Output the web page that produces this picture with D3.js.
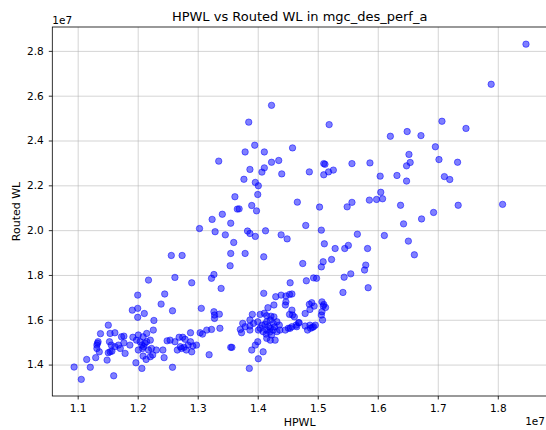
<!DOCTYPE html>
<html><head><meta charset="utf-8">
<script src="https://cdn.jsdelivr.net/npm/d3@7/dist/d3.min.js"></script>
<style>
body{margin:0;background:#fff}
svg{display:block}
text{font-family:"DejaVu Sans",sans-serif;fill:#000}
</style>
</head><body>
<svg id="chart" width="546" height="430"></svg>
<script>
// Values in units of 1e7 (matplotlib offset text "1e7")
const SCALE = 1e7;
const xTicks = [1.1,1.2,1.3,1.4,1.5,1.6,1.7,1.8];
const yTicks = [1.4,1.6,1.8,2.0,2.2,2.4,2.6,2.8];
const xDomain = [1.0577, 1.882];
const yDomain = [1.2598, 2.9066];

// [HPWL, Routed WL] pairs, grouped by region of the plot
const upperPoints = [[1.847,2.830],[1.789,2.651],[1.423,2.557],[1.385,2.482],[1.519,2.471],[1.395,2.379],[1.379,2.349],[1.411,2.349],[1.458,2.367],[1.335,2.308],[1.423,2.303],[1.435,2.311],[1.411,2.278],[1.407,2.259],[1.387,2.271],[1.440,2.251],[1.486,2.260],[1.510,2.297],[1.512,2.294],[1.518,2.260],[1.526,2.268],[1.510,2.247],[1.377,2.227],[1.396,2.213],[1.401,2.198],[1.400,2.159],[1.362,2.149],[1.466,2.125],[1.503,2.103],[1.390,2.110],[1.398,2.086],[1.366,2.094],[1.369,2.095],[1.341,2.071],[1.324,2.048],[1.355,2.031],[1.303,2.007],[1.329,1.993],[1.346,1.979],[1.383,1.996],[1.387,1.985],[1.396,1.972],[1.413,1.997],[1.439,1.979],[1.449,1.961],[1.480,2.021],[1.506,2.000],[1.511,1.939],[1.529,1.918],[1.360,1.945],[1.355,1.896],[1.379,1.896],[1.410,1.881],[1.354,1.841],[1.475,1.851],[1.509,1.859],[1.506,1.836],[1.523,1.869],[1.256,1.887],[1.274,1.887],[1.327,1.802],[1.323,1.785],[1.262,1.789]];

const rightPoints = [[1.707,2.486],[1.747,2.454],[1.649,2.440],[1.621,2.419],[1.672,2.422],[1.696,2.372],[1.652,2.338],[1.654,2.302],[1.648,2.287],[1.702,2.315],[1.733,2.303],[1.557,2.297],[1.587,2.300],[1.604,2.241],[1.632,2.244],[1.648,2.219],[1.711,2.239],[1.720,2.226],[1.605,2.169],[1.586,2.134],[1.598,2.137],[1.608,2.140],[1.557,2.124],[1.549,2.104],[1.638,2.111],[1.734,2.111],[1.808,2.115],[1.693,2.079],[1.673,2.050],[1.643,2.028],[1.566,1.982],[1.611,1.976],[1.651,1.951],[1.661,1.890],[1.545,1.918],[1.551,1.932],[1.583,1.918],[1.580,1.844],[1.578,1.822],[1.555,1.805],[1.544,1.790],[1.584,1.743],[1.542,1.722]];

const midPoints = [[1.454,1.765],[1.457,1.715],[1.481,1.774],[1.493,1.787],[1.498,1.785],[1.486,1.669],[1.490,1.676],[1.494,1.661],[1.487,1.646],[1.479,1.628],[1.507,1.680],[1.509,1.661],[1.513,1.655],[1.507,1.636],[1.506,1.621],[1.508,1.599],[1.457,1.643],[1.458,1.621],[1.454,1.562],[1.469,1.587],[1.465,1.569],[1.479,1.572],[1.483,1.554],[1.488,1.562],[1.493,1.569],[1.496,1.576],[1.487,1.576],[1.491,1.566],[1.510,1.668]];

const centerPoints = [[1.290,1.765],[1.339,1.740],[1.410,1.718],[1.430,1.703],[1.439,1.710],[1.447,1.706],[1.453,1.713],[1.447,1.680],[1.446,1.666],[1.417,1.654],[1.427,1.666],[1.306,1.651],[1.327,1.636],[1.336,1.625],[1.328,1.606],[1.328,1.621],[1.258,1.640],[1.453,1.624],[1.461,1.613],[1.391,1.624],[1.404,1.624],[1.411,1.629],[1.415,1.618],[1.422,1.616],[1.427,1.613],[1.375,1.584],[1.387,1.599],[1.393,1.584],[1.379,1.569],[1.371,1.557],[1.373,1.542],[1.387,1.572],[1.387,1.554],[1.400,1.591],[1.407,1.576],[1.415,1.591],[1.421,1.599],[1.426,1.584],[1.432,1.591],[1.436,1.576],[1.421,1.562],[1.415,1.554],[1.426,1.554],[1.432,1.547],[1.423,1.532],[1.415,1.517],[1.421,1.509],[1.429,1.509],[1.409,1.547],[1.404,1.562],[1.437,1.554],[1.446,1.554],[1.451,1.562],[1.457,1.569],[1.464,1.576],[1.468,1.587],[1.401,1.554],[1.414,1.536],[1.418,1.570],[1.428,1.568],[1.412,1.580],[1.420,1.545],[1.400,1.502],[1.396,1.487],[1.390,1.465],[1.409,1.457],[1.401,1.426],[1.386,1.383],[1.357,1.477],[1.355,1.477],[1.319,1.444],[1.258,1.388],[1.304,1.542],[1.308,1.536],[1.315,1.554],[1.323,1.557],[1.337,1.562],[1.288,1.542],[1.262,1.502],[1.269,1.522],[1.275,1.522],[1.279,1.513],[1.266,1.465],[1.273,1.472],[1.277,1.477],[1.284,1.487],[1.288,1.502],[1.292,1.483],[1.298,1.487],[1.290,1.457],[1.281,1.465],[1.271,1.480],[1.254,1.509]];

const lowerLeftPoints = [[1.218,1.777],[1.200,1.710],[1.245,1.715],[1.239,1.670],[1.191,1.643],[1.200,1.651],[1.211,1.628],[1.200,1.611],[1.227,1.597],[1.226,1.554],[1.151,1.576],[1.138,1.538],[1.154,1.539],[1.162,1.542],[1.173,1.524],[1.177,1.527],[1.192,1.522],[1.201,1.532],[1.209,1.524],[1.215,1.539],[1.134,1.502],[1.132,1.487],[1.132,1.472],[1.136,1.457],[1.153,1.502],[1.156,1.487],[1.162,1.480],[1.168,1.487],[1.171,1.472],[1.154,1.457],[1.151,1.453],[1.157,1.460],[1.177,1.497],[1.187,1.487],[1.198,1.509],[1.204,1.502],[1.207,1.487],[1.212,1.495],[1.215,1.502],[1.221,1.509],[1.208,1.472],[1.201,1.465],[1.218,1.465],[1.223,1.472],[1.231,1.465],[1.242,1.465],[1.249,1.506],[1.179,1.450],[1.244,1.431],[1.209,1.438],[1.214,1.423],[1.221,1.435],[1.225,1.443],[1.115,1.423],[1.130,1.431],[1.149,1.420],[1.121,1.388],[1.094,1.389],[1.106,1.334],[1.160,1.350],[1.197,1.408],[1.207,1.383],[1.133,1.495],[1.210,1.480]];

const allPoints = [].concat(upperPoints, rightPoints, midPoints, centerPoints, lowerLeftPoints);

const L = 52.3, R = 547, T = 27, B = 396;
const svg = d3.select("#chart");

const x = d3.scaleLinear().domain(xDomain.map(v => v*SCALE)).range([L, R]);
const y = d3.scaleLinear().domain(yDomain.map(v => v*SCALE)).range([B, T]);

// grid
const grid = svg.append("g");
grid.append("g").attr("transform", `translate(0,${B})`)
  .call(d3.axisBottom(x).tickValues(xTicks.map(v=>v*SCALE)).tickSize(-(B-T)).tickFormat(""))
  .call(g => g.select(".domain").remove())
  .call(g => g.selectAll("line").attr("stroke","#b0b0b0").attr("stroke-opacity",0.55).attr("stroke-width",1));
grid.append("g").attr("transform", `translate(${L},0)`)
  .call(d3.axisLeft(y).tickValues(yTicks.map(v=>v*SCALE)).tickSize(-(R-L)).tickFormat(""))
  .call(g => g.select(".domain").remove())
  .call(g => g.selectAll("line").attr("stroke","#b0b0b0").attr("stroke-opacity",0.55).attr("stroke-width",1));

// points
svg.append("g").selectAll("circle").data(allPoints).join("circle")
  .attr("cx", d => x(d[0]*SCALE))
  .attr("cy", d => y(d[1]*SCALE))
  .attr("r", 3.2)
  .attr("fill", "blue").attr("fill-opacity", 0.5)
  .attr("stroke", "blue").attr("stroke-opacity", 0.5).attr("stroke-width", 1);

// spines
svg.append("rect").attr("x", L).attr("y", T).attr("width", R-L).attr("height", B-T)
  .attr("fill","none").attr("stroke","#000").attr("stroke-width",0.8);

// axes
const xAxis = svg.append("g").attr("transform", `translate(0,${B})`)
  .call(d3.axisBottom(x).tickValues(xTicks.map(v=>v*SCALE)).tickSize(3.5).tickPadding(5.5)
    .tickFormat(v => d3.format(".1f")(v/SCALE)));
xAxis.select(".domain").remove();
xAxis.selectAll("line").attr("stroke","#000").attr("stroke-width",0.8);
xAxis.selectAll("text").attr("font-size",10.5).attr("font-family","DejaVu Sans").attr("fill","#000");

const yAxis = svg.append("g").attr("transform", `translate(${L},0)`)
  .call(d3.axisLeft(y).tickValues(yTicks.map(v=>v*SCALE)).tickSize(3.5).tickPadding(5)
    .tickFormat(v => d3.format(".1f")(v/SCALE)));
yAxis.select(".domain").remove();
yAxis.selectAll("line").attr("stroke","#000").attr("stroke-width",0.8);
yAxis.selectAll("text").attr("font-size",10.5).attr("font-family","DejaVu Sans").attr("fill","#000");

// texts
svg.append("text").attr("x", (L+R)/2).attr("y", 20.5).attr("text-anchor","middle")
  .attr("font-size",13).text("HPWL vs Routed WL in mgc_des_perf_a");
svg.append("text").attr("x", (L+R)/2).attr("y", 426).attr("text-anchor","middle")
  .attr("font-size",11).text("HPWL");
svg.append("text").attr("transform", `translate(19.5,${(T+B)/2}) rotate(-90)`).attr("text-anchor","middle")
  .attr("font-size",11).text("Routed WL");
svg.append("text").attr("x", L).attr("y", 24).attr("font-size",10.5).text("1e7");
svg.append("text").attr("x", 545).attr("y", 425).attr("text-anchor","end").attr("font-size",10.5).text("1e7");
</script>
</body></html>
